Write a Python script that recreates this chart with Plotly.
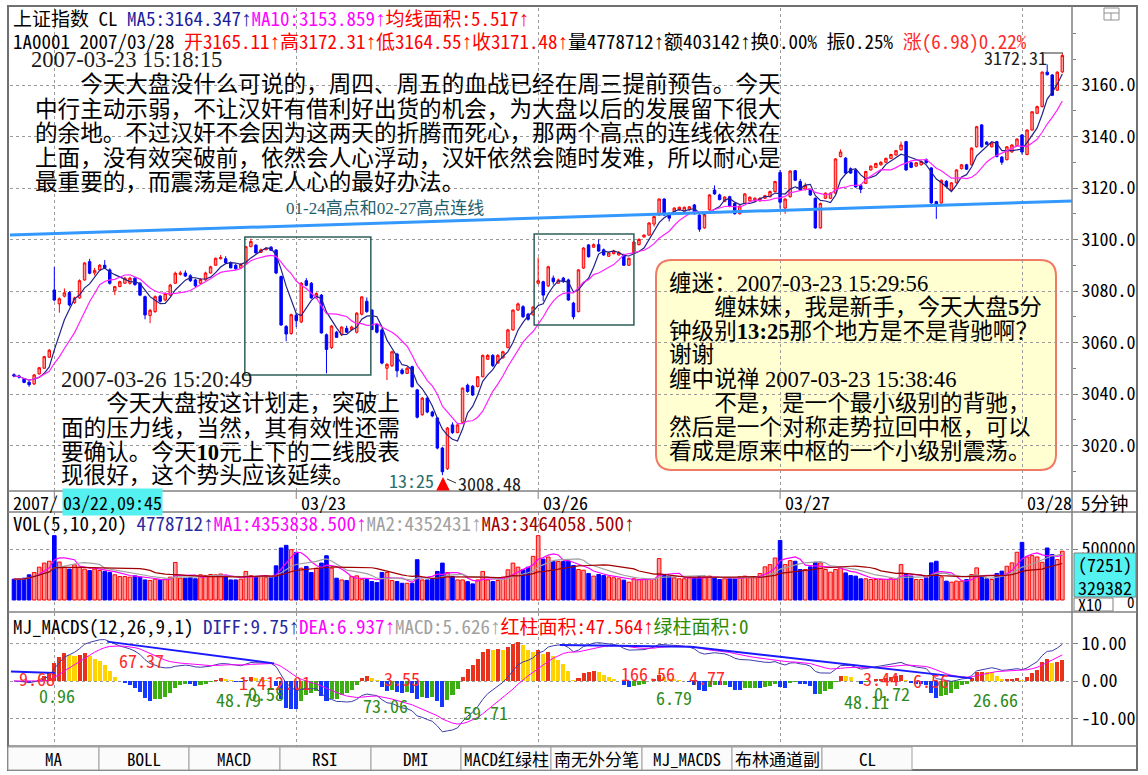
import plotly.graph_objects as go
import pandas as pd

W, H = 1148, 775

# ====================== DATA ======================
day_start_idx = [8, 56, 104, 152, 200]
day_labels = ["03/23", "03/26", "03/27", "03/28"]
date_prefix = "2007/"
first_label = "03/22,09:45"
period_label = "5分钟"

opens = [3047.5, 3047.0, 3045.8, 3044.6, 3043.9, 3047.8, 3050.0, 3054.3, 3080.4, 3075.0,
         3078.0, 3079.4, 3075.5, 3077.3, 3084.3, 3091.4, 3087.0, 3088.2, 3090.0, 3088.2,
         3080.1, 3081.7, 3083.0, 3083.0, 3085.0, 3083.0, 3077.8, 3070.5, 3072.0, 3078.0,
         3076.5, 3078.4, 3083.0, 3086.5, 3087.0, 3085.9, 3084.3, 3083.0, 3084.3, 3087.0,
         3090.0, 3092.5, 3092.5, 3091.0, 3090.0, 3089.0, 3090.8, 3097.2, 3097.8, 3095.0,
         3096.0, 3097.0, 3095.9, 3085.6, 3066.2, 3063.5, 3070.6, 3068.0, 3084.0, 3083.0,
         3077.3, 3078.4, 3063.0, 3058.0, 3064.0, 3063.0, 3065.5, 3065.0, 3064.0, 3071.0,
         3076.0, 3072.6, 3067.0, 3064.9, 3050.0, 3051.0, 3055.5, 3049.3, 3048.0, 3050.6,
         3041.6, 3032.0, 3038.4, 3033.0, 3030.7, 3019.0, 3011.0, 3028.0, 3025.0, 3029.0,
         3043.4, 3043.0, 3042.9, 3046.7, 3053.5, 3055.0, 3052.0, 3054.0, 3058.0, 3064.9,
         3072.6, 3073.9, 3071.0, 3070.7, 3083.0, 3083.6, 3082.0, 3085.0, 3083.0, 3085.0,
         3084.3, 3075.3, 3072.0, 3088.9, 3097.9, 3097.0, 3098.0, 3096.0, 3093.5, 3094.5,
         3094.0, 3094.0, 3090.0, 3094.7, 3098.0, 3101.0, 3101.7, 3106.0, 3109.5, 3115.7,
         3109.5, 3110.8, 3111.5, 3111.0, 3111.5, 3113.4, 3109.5, 3104.5, 3111.5, 3119.2,
         3117.3, 3114.8, 3116.6, 3114.0, 3110.0, 3114.0, 3115.0, 3115.0, 3115.0, 3116.0,
         3116.6, 3118.6, 3126.0, 3112.2, 3116.6, 3126.7, 3122.5, 3119.6, 3119.2, 3116.0,
         3104.5, 3116.0, 3116.0, 3118.0, 3132.2, 3131.6, 3127.5, 3127.0, 3121.0, 3121.8,
         3127.0, 3128.0, 3129.0, 3130.0, 3131.5, 3132.8, 3134.8, 3138.0, 3129.8, 3128.5,
         3129.0, 3131.0, 3127.8, 3114.7, 3114.2, 3122.6, 3119.2, 3122.0, 3127.5, 3129.0,
         3129.0, 3136.0, 3144.5, 3137.8, 3136.0, 3138.0, 3132.0, 3131.0, 3134.0, 3136.5,
         3140.6, 3133.0, 3142.5, 3149.0, 3151.6, 3165.0, 3163.9, 3158.0, 3165.11]

highs = [3048.0, 3047.5, 3046.2, 3045.0, 3047.8, 3050.5, 3054.8, 3057.5, 3089.3, 3077.5,
         3081.0, 3080.0, 3077.8, 3084.5, 3091.2, 3092.5, 3089.0, 3090.5, 3092.0, 3088.8,
         3082.0, 3084.0, 3085.5, 3085.5, 3085.5, 3083.5, 3078.2, 3073.0, 3078.3, 3078.5,
         3079.5, 3082.8, 3087.5, 3087.8, 3088.0, 3086.5, 3084.8, 3085.0, 3087.5, 3089.8,
         3093.0, 3094.0, 3093.5, 3091.5, 3090.5, 3090.8, 3097.5, 3100.3, 3098.2, 3096.5,
         3097.0, 3097.5, 3096.3, 3086.0, 3066.8, 3071.2, 3071.5, 3083.5, 3085.0, 3083.5,
         3079.5, 3078.8, 3063.5, 3066.8, 3064.5, 3066.3, 3066.5, 3066.5, 3071.8, 3078.0,
         3077.5, 3073.0, 3067.5, 3065.5, 3052.0, 3056.8, 3056.0, 3050.0, 3050.5, 3051.0,
         3042.0, 3038.8, 3038.8, 3033.5, 3031.0, 3019.5, 3027.2, 3029.0, 3028.5, 3042.5,
         3044.0, 3043.5, 3047.0, 3055.3, 3055.5, 3055.5, 3055.5, 3056.8, 3065.3, 3072.8,
         3075.5, 3074.5, 3071.5, 3074.0, 3093.0, 3084.0, 3089.8, 3086.0, 3084.8, 3085.5,
         3084.8, 3075.8, 3088.5, 3097.0, 3098.2, 3098.5, 3100.0, 3096.5, 3095.2, 3096.0,
         3095.5, 3094.5, 3093.0, 3099.3, 3100.5, 3102.0, 3106.8, 3109.2, 3116.0, 3116.0,
         3110.5, 3112.5, 3112.8, 3112.8, 3113.0, 3113.8, 3109.8, 3109.8, 3117.6, 3121.0,
         3117.8, 3116.8, 3117.0, 3114.3, 3113.3, 3118.0, 3116.8, 3116.4, 3116.4, 3117.4,
         3119.0, 3122.8, 3127.0, 3116.0, 3126.9, 3127.0, 3123.5, 3122.0, 3119.6, 3116.3,
         3114.3, 3118.3, 3118.3, 3131.6, 3135.0, 3132.0, 3128.0, 3127.3, 3121.5, 3126.7,
         3128.8, 3129.8, 3130.4, 3131.8, 3133.3, 3134.8, 3138.0, 3138.3, 3130.2, 3130.1,
         3130.6, 3131.5, 3128.1, 3115.0, 3123.3, 3123.0, 3122.3, 3127.3, 3129.3, 3129.4,
         3135.8, 3144.1, 3144.8, 3138.2, 3137.8, 3138.3, 3132.4, 3136.3, 3137.0, 3139.3,
         3140.9, 3142.8, 3149.9, 3152.0, 3165.3, 3168.0, 3164.2, 3165.3, 3172.31]

lows = [3046.5, 3046.0, 3044.2, 3042.8, 3043.5, 3047.5, 3049.8, 3054.0, 3076.0, 3071.6,
        3077.5, 3074.0, 3075.0, 3077.0, 3084.0, 3086.5, 3086.0, 3087.8, 3088.5, 3082.5,
        3078.4, 3081.5, 3082.8, 3082.5, 3082.0, 3078.0, 3069.0, 3067.5, 3071.5, 3075.5,
        3076.0, 3078.0, 3082.8, 3086.0, 3085.5, 3083.5, 3081.5, 3082.5, 3084.0, 3086.8,
        3089.8, 3092.3, 3090.5, 3088.8, 3088.3, 3088.8, 3090.5, 3097.0, 3094.5, 3094.8,
        3095.8, 3095.5, 3086.5, 3066.5, 3060.5, 3063.0, 3066.0, 3067.5, 3081.8, 3077.0,
        3076.8, 3063.5, 3048.0, 3057.5, 3061.8, 3062.5, 3063.8, 3064.5, 3063.5, 3070.5,
        3071.5, 3064.8, 3063.5, 3051.5, 3045.4, 3050.5, 3046.5, 3047.5, 3047.8, 3042.5,
        3030.5, 3031.5, 3032.5, 3031.0, 3018.5, 3008.48, 3010.5, 3024.5, 3024.8, 3028.8,
        3040.5, 3039.2, 3042.5, 3046.5, 3053.2, 3050.5, 3051.8, 3053.8, 3057.8, 3064.5,
        3072.3, 3069.5, 3068.5, 3070.5, 3082.5, 3076.0, 3081.5, 3082.5, 3082.8, 3083.2,
        3076.2, 3069.0, 3071.7, 3088.6, 3093.0, 3096.8, 3095.2, 3093.7, 3093.2, 3094.2,
        3093.7, 3089.7, 3089.7, 3094.4, 3097.7, 3100.7, 3101.4, 3105.0, 3109.2, 3109.2,
        3107.0, 3110.5, 3111.2, 3110.7, 3111.2, 3109.7, 3103.0, 3104.2, 3111.2, 3117.4,
        3115.2, 3114.5, 3112.5, 3109.7, 3109.7, 3113.7, 3114.7, 3114.7, 3114.7, 3115.7,
        3116.3, 3118.3, 3112.0, 3110.0, 3116.3, 3122.7, 3118.9, 3119.0, 3117.0, 3104.2,
        3104.2, 3115.7, 3115.7, 3117.7, 3131.9, 3125.5, 3125.5, 3120.1, 3118.0, 3121.5,
        3126.7, 3127.7, 3128.7, 3129.7, 3131.2, 3132.5, 3134.5, 3126.7, 3127.7, 3128.2,
        3128.7, 3129.5, 3113.9, 3108.0, 3113.9, 3120.3, 3118.9, 3121.7, 3127.2, 3127.0,
        3128.7, 3135.7, 3135.7, 3136.7, 3135.7, 3131.9, 3129.0, 3130.7, 3133.7, 3136.2,
        3133.0, 3132.7, 3142.2, 3148.7, 3151.3, 3163.7, 3155.7, 3157.7, 3164.55]

closes = [3047.0, 3046.6, 3044.5, 3043.6, 3047.4, 3050.2, 3054.5, 3057.0, 3076.5, 3077.0,
          3079.3, 3074.6, 3077.3, 3084.0, 3090.9, 3086.9, 3088.0, 3090.0, 3089.0, 3083.0,
          3081.7, 3083.6, 3085.0, 3085.0, 3082.5, 3078.4, 3070.7, 3072.5, 3077.8, 3076.0,
          3079.0, 3082.3, 3086.9, 3087.0, 3085.8, 3084.0, 3082.0, 3084.5, 3087.0, 3089.4,
          3092.7, 3093.0, 3091.0, 3089.0, 3088.6, 3090.3, 3097.2, 3099.2, 3094.8, 3096.0,
          3096.5, 3095.8, 3087.0, 3066.8, 3063.3, 3070.8, 3068.5, 3083.0, 3082.2, 3077.3,
          3079.0, 3063.7, 3057.3, 3066.4, 3062.0, 3066.0, 3064.0, 3066.0, 3071.4, 3077.7,
          3072.0, 3065.0, 3064.0, 3052.0, 3051.5, 3056.4, 3049.0, 3048.0, 3050.0, 3042.8,
          3031.0, 3038.4, 3033.0, 3031.5, 3019.0, 3009.8, 3026.8, 3025.0, 3028.0, 3042.3,
          3041.0, 3039.6, 3046.7, 3055.0, 3055.0, 3051.0, 3055.0, 3056.4, 3064.9, 3072.6,
          3075.0, 3070.0, 3069.0, 3073.8, 3084.0, 3078.4, 3089.4, 3083.6, 3084.3, 3083.6,
          3076.5, 3070.0, 3088.2, 3096.7, 3093.3, 3098.0, 3095.5, 3094.0, 3094.8, 3095.5,
          3095.0, 3090.0, 3092.7, 3099.0, 3100.0, 3101.7, 3106.4, 3108.9, 3115.7, 3109.5,
          3108.3, 3112.2, 3112.5, 3112.5, 3112.7, 3110.0, 3104.0, 3109.5, 3117.3, 3117.7,
          3115.5, 3116.5, 3112.8, 3110.0, 3113.0, 3117.7, 3116.4, 3116.0, 3116.0, 3117.0,
          3118.6, 3122.5, 3114.5, 3115.7, 3126.6, 3123.0, 3119.2, 3121.0, 3117.3, 3104.5,
          3114.0, 3118.0, 3118.0, 3131.3, 3134.0, 3125.8, 3125.8, 3120.4, 3119.5, 3126.4,
          3128.5, 3129.5, 3130.0, 3131.5, 3133.0, 3134.5, 3136.7, 3127.0, 3128.0, 3129.8,
          3130.3, 3129.8, 3114.2, 3113.4, 3123.0, 3120.6, 3122.0, 3127.0, 3129.0, 3127.3,
          3135.5, 3143.8, 3136.0, 3137.0, 3137.5, 3132.2, 3130.0, 3136.0, 3136.7, 3139.0,
          3134.0, 3142.5, 3149.6, 3151.6, 3165.0, 3164.0, 3156.0, 3165.0, 3171.48]

# volume on the X10 scale shown in the sub-panel
volumes = [204000, 204000, 214000, 247000, 270000, 322000, 362000, 380000, 631000, 372000,
           322000, 303000, 345000, 322000, 303000, 289000, 303000, 289000, 280000, 270000,
           247000, 230000, 230000, 224000, 237000, 224000, 197000, 191000, 204000, 197000,
           204000, 224000, 368000, 214000, 214000, 220000, 208000, 247000, 240000, 250000,
           247000, 255000, 237000, 197000, 197000, 204000, 280000, 240000, 224000, 230000,
           220000, 224000, 335000, 510000, 536000, 493000, 467000, 312000, 329000, 270000,
           312000, 362000, 434000, 312000, 214000, 197000, 191000, 230000, 237000, 204000,
           200000, 181000, 171000, 270000, 270000, 191000, 181000, 164000, 164000, 164000,
           395000, 197000, 197000, 204000, 280000, 362000, 270000, 230000, 197000, 197000,
           180000, 158000, 197000, 280000, 197000, 181000, 191000, 224000, 296000, 362000,
           322000, 296000, 322000, 428000, 631000, 401000, 421000, 378000, 378000, 378000,
           380000, 338000, 299000, 292000, 260000, 234000, 250000, 240000, 227000, 218000,
           208000, 195000, 175000, 208000, 201000, 208000, 201000, 201000, 406000, 240000,
           234000, 218000, 208000, 208000, 218000, 218000, 227000, 227000, 234000, 218000,
           201000, 208000, 218000, 208000, 227000, 234000, 218000, 218000, 260000, 325000,
           347000, 412000, 584000, 347000, 386000, 380000, 299000, 299000, 325000, 370000,
           364000, 299000, 273000, 299000, 325000, 266000, 240000, 234000, 208000, 208000,
           201000, 201000, 201000, 201000, 208000, 208000, 347000, 250000, 234000, 201000,
           201000, 218000, 364000, 380000, 227000, 185000, 175000, 185000, 185000, 201000,
           250000, 315000, 234000, 208000, 201000, 260000, 283000, 331000, 364000, 468000,
           565000, 422000, 435000, 422000, 370000, 510000, 445000, 396000, 478000]

price_ticks = [3020, 3040, 3060, 3080, 3100, 3120, 3140, 3160]
vol_ticks = [500000]
vol_ticktext = ["500000"]
macd_ticks = [10, 0, -10]
macd_ticktext = ["10.00", "0.00", "-10.00"]

# user-drawn objects on the price panel (bar index, price)
trend_x = [-0.8, 209.9]
trend_y = [3101.75, 3114.95]
box1_x = [45.8, 70.8]
box1_y = [3047.4, 3101.0]
box2_x = [103.2, 123.0]
box2_y = [3066.8, 3102.1]
# MJ_MACDS peak-connection line (bar index, value)
mj_x = [-0.6, 8.1, None, 18.5, 51.6, None, 108.3, 134.3, 190.1]
mj_y = [2.5, 2.1, None, 10.5, 4.7, None, 9.6, 9.1, 0.7]

# texts
hdr_name = "上证指数 CL"
hdr_ma5 = "MA5:3164.347"
hdr_ma10 = "MA10:3153.859"
hdr_area = "均线面积:5.517"
hdr_code = "1A0001 2007/03/28"
hdr_ohlc = ["开3165.11", "高3172.31", "低3164.55", "收3171.48"]
hdr_vol = ["量4778712", "额403142"]
hdr_rest = "换0.00% 振0.25%"
hdr_chg = "涨(6.98)0.22%"
vol_title = ["VOL(5,10,20)", "4778712", "MA1:4353838.500", "MA2:4352431", "MA3:3464058.500"]
macd_title = ["MJ_MACDS(12,26,9,1)", "DIFF:9.75", "DEA:6.937", "MACD:5.626", "红柱面积:47.564", "绿柱面积:0"]
vol_box = ["(7251)", "329382", "X10", "0"]
tabs = ["MA", "BOLL", "MACD", "RSI", "DMI", "MACD红绿柱", "南无外分笔", "MJ_MACDS", "布林通道副", "CL"]
high_label = "3172.31"
low_label = "3008.48"
low_time = "13:25"
trend_label = "01-24高点和02-27高点连线"
note1_time = "2007-03-23 15:18:15"
note1 = ["\u3000\u3000今天大盘没什么可说的，周四、周五的血战已经在周三提前预告。今天",
         "中行主动示弱，不让汉奸有借利好出货的机会，为大盘以后的发展留下很大",
         "的余地。不过汉奸不会因为这两天的折腾而死心，那两个高点的连线依然在",
         "上面，没有效突破前，依然会人心浮动，汉奸依然会随时发难，所以耐心是",
         "最重要的，而震荡是稳定人心的最好办法。"]
note2_time = "2007-03-26 15:20:49"
note2 = ["\u3000\u3000今天大盘按这计划走，突破上",
         "面的压力线，当然，其有效性还需",
         "要确认。今天<b>10</b>元上下的二线股表",
         "现很好，这个势头应该延续。"]
note3 = ["缠迷：2007-03-23 15:29:56",
         "\u3000\u3000缠妹妹，我是新手，今天大盘<b>5</b>分",
         "钟级别<b>13:25</b>那个地方是不是背驰啊？",
         "谢谢",
         "缠中说禅 2007-03-23 15:38:46",
         "\u3000\u3000不是，是一个最小级别的背驰，",
         "然后是一个对称走势拉回中枢，可以",
         "看成是原来中枢的一个小级别震荡。"]
macd_red_labels = ["9.68", "67.37", "1.412.01", "3.55", "166.56", "4.77", "3.44", "6.56"]
macd_green_labels = ["0.96", "48.79", "0.58", "73.06", "59.71", "6.79", "48.11", "0.72", "26.66"]

# ====================== DERIVED INDICATORS ======================
n = len(closes)
idx = list(range(n))
cs = pd.Series(closes)
ma5 = cs.rolling(5, min_periods=1).mean()
ma10 = cs.rolling(10, min_periods=1).mean()
vs = pd.Series(volumes)
vma5 = vs.rolling(5, min_periods=1).mean()
vma10 = vs.rolling(10, min_periods=1).mean()
vma20 = vs.rolling(20, min_periods=1).mean()
ema12 = cs.ewm(span=12, adjust=False).mean()
ema26 = cs.ewm(span=26, adjust=False).mean()
diff = ema12 - ema26
dea = diff.ewm(span=9, adjust=False).mean()
macd = 2 * (diff - dea)

# ====================== STYLE / LAYOUT ======================
MONO = "Noto Sans Mono CJK SC, Liberation Mono, monospace"
SERIF_CJK = "Liberation Serif, Noto Sans CJK SC, serif"
RED = "#ff0000"
BLUE = "#0000ff"
GRID = "#9a9a9a"
FRAME = "#808080"


def px(x):
    return x / W


def py(y):
    return 1 - y / H


BAR0, STEP = 14.0, 5.04
xr = [(10 - BAR0) / STEP, (1072 - BAR0) / STEP]
XDOM = [px(10), px(1072)]

# price panel: y 8..490 px, 3160 at y=85, 2.575 px/pt
P_TOP, P_BOT = 8, 490
main_range = [3160 - (P_BOT - 85) / 2.575, 3160 + (85 - P_TOP) / 2.575]
# volume panel: y 512..612 px, zero at 600, 500000 at 549
V_TOP, V_BOT = 512, 612
vpp = 500000 / 51.0
vol_range = [-(V_BOT - 600) * vpp, (600 - V_TOP) * vpp]
# macd panel: y 613..746 px, zero at 681, 3.75 px/unit
M_TOP, M_BOT = 613, 746
macd_range = [-(M_BOT - 681) / 3.75, (681 - M_TOP) / 3.75]

up = [c >= o for o, c in zip(opens, closes)]
vol_fill = ["#ff9c9c" if u else BLUE for u in up]
vol_line = [RED if u else BLUE for u in up]
mcol = []
for k in range(n):
    prev = macd[k - 1] if k > 0 else 0.0
    if macd[k] >= 0:
        mcol.append("#e8321c" if macd[k] >= prev else "#ffd200")
    else:
        mcol.append("#1438ff" if macd[k] <= prev else "#3cae12")

fig = go.Figure()
fig.add_trace(go.Candlestick(
    x=idx, open=opens, high=highs, low=lows, close=closes,
    increasing=dict(line=dict(color=RED, width=1), fillcolor="#ff9a9a"),
    decreasing=dict(line=dict(color=BLUE, width=1), fillcolor=BLUE),
    whiskerwidth=0, xaxis="x", yaxis="y", hoverinfo="skip", showlegend=False))
fig.add_trace(go.Scatter(x=idx, y=ma5, mode="lines", line=dict(color="#22228a", width=1.2),
                         xaxis="x", yaxis="y", hoverinfo="skip"))
fig.add_trace(go.Scatter(x=idx, y=ma10, mode="lines", line=dict(color="#ff22ff", width=1.2),
                         xaxis="x", yaxis="y", hoverinfo="skip"))
fig.add_trace(go.Scatter(x=trend_x, y=trend_y, mode="lines", line=dict(color="#3399ff", width=3),
                         xaxis="x", yaxis="y", hoverinfo="skip"))

fig.add_trace(go.Bar(x=idx, y=volumes, width=0.72, marker=dict(color=vol_fill, line=dict(color=vol_line, width=1)),
                     xaxis="x2", yaxis="y2", hoverinfo="skip"))
fig.add_trace(go.Scatter(x=idx, y=vma5, mode="lines", line=dict(color="#ff00ff", width=1.2), xaxis="x2", yaxis="y2"))
fig.add_trace(go.Scatter(x=idx, y=vma10, mode="lines", line=dict(color="#a0a0a0", width=1.2), xaxis="x2", yaxis="y2"))
fig.add_trace(go.Scatter(x=idx, y=vma20, mode="lines", line=dict(color="#a00000", width=1.2), xaxis="x2", yaxis="y2"))

fig.add_trace(go.Bar(x=idx, y=macd, width=0.8, marker=dict(color=mcol, line=dict(width=0)),
                     xaxis="x3", yaxis="y3", hoverinfo="skip"))
fig.add_trace(go.Scatter(x=idx, y=diff, mode="lines", line=dict(color="#3c3ca8", width=1), xaxis="x3", yaxis="y3"))
fig.add_trace(go.Scatter(x=idx, y=dea, mode="lines", line=dict(color="#ff00ff", width=1), xaxis="x3", yaxis="y3"))
fig.add_trace(go.Scatter(x=mj_x, y=mj_y, mode="lines", line=dict(color="#1a1aff", width=2), xaxis="x3", yaxis="y3",
                         connectgaps=False))


def xaxis(anchor):
    return dict(domain=XDOM, range=xr, anchor=anchor, showticklabels=False, ticks="",
                tickmode="array", tickvals=day_start_idx, showgrid=True, gridcolor=GRID,
                griddash="dot", gridwidth=1, zeroline=False, showline=False, fixedrange=True)


def yaxis(anchor, top, bot, rng, tv, tt, minor=None):
    d = dict(domain=[py(bot), py(top)], range=rng, anchor=anchor, side="right",
             tickmode="array", tickvals=tv, ticktext=tt, ticks="outside", ticklen=5,
             tickcolor=FRAME, showgrid=True, gridcolor=GRID, griddash="dot", zeroline=False,
             showline=False, tickfont=dict(family=MONO, size=18, color="#000000"), fixedrange=True)
    if minor:
        d["minor"] = minor
    return d


fig.update_layout(
    width=W, height=H, margin=dict(l=0, r=0, t=0, b=0),
    paper_bgcolor="#ffffff", plot_bgcolor="#ffffff", showlegend=False, hovermode=False,
    bargap=0,
    xaxis=dict(xaxis("y"), rangeslider=dict(visible=False)),
    xaxis2=xaxis("y2"), xaxis3=xaxis("y3"),
    yaxis=yaxis("x", P_TOP, P_BOT, main_range, price_ticks, [f"{v:.1f}" for v in price_ticks],
                minor=dict(tickmode="linear", tick0=3000, dtick=10, ticks="outside", ticklen=3,
                           tickcolor=FRAME, showgrid=False)),
    yaxis2=yaxis("x2", V_TOP, V_BOT, vol_range, vol_ticks, vol_ticktext),
    yaxis3=yaxis("x3", M_TOP, M_BOT, macd_range, macd_ticks, macd_ticktext),
)

shapes = []


def pline(x0, y0, x1, y1, color=FRAME, w=1.0):
    shapes.append(dict(type="line", xref="paper", yref="paper", x0=px(x0), y0=py(y0), x1=px(x1), y1=py(y1),
                       line=dict(color=color, width=w)))


def prect(x0, y0, x1, y1, color=FRAME, fill=None, w=1.0):
    shapes.append(dict(type="rect", xref="paper", yref="paper", x0=px(x0), y0=py(y1), x1=px(x1), y1=py(y0),
                       line=dict(color=color, width=w), fillcolor=fill or "rgba(0,0,0,0)", layer="above"))


# frame and separators
prect(8, 6, 1137, 770, color="#707070", w=2)
pline(1072, 6, 1072, 746, w=1.5)
for yy in (491, 512, 612, 746):
    pline(8, yy, 1137, yy, w=1.5)
# tabs
tab_edges = [8, 99, 189, 280, 371, 461, 551, 642, 732, 822, 912]
for a, b in zip(tab_edges[:-1], tab_edges[1:]):
    prect(a, 747, b, 770, color="#a0a0a0", fill="#fbfbfb")
# top-right window icon
prect(1104, 8, 1119, 20, color="#909090")
pline(1104, 13, 1119, 13, color="#909090")
pline(1111, 13, 1111, 20, color="#909090")
# date strip tick marks at session starts (data x)
for d in day_start_idx:
    shapes.append(dict(type="line", xref="x", yref="paper", x0=d, x1=d, y0=py(499), y1=py(491),
                       line=dict(color=FRAME, width=1)))
# analysis boxes (data coords)
for bx, by in ((box1_x, box1_y), (box2_x, box2_y)):
    shapes.append(dict(type="rect", xref="x", yref="y", x0=bx[0], x1=bx[1], y0=by[0], y1=by[1],
                       line=dict(color="#2f5f5a", width=1.5), fillcolor="rgba(0,0,0,0)"))
# rounded callout box
bx0, by0, bx1, by1, r = 656, 260, 1056, 470, 16
rx, ry = r / W, r / H
X0, X1, Y0, Y1 = px(bx0), px(bx1), py(by1), py(by0)
path = (f"M {X0+rx},{Y0} L {X1-rx},{Y0} Q {X1},{Y0} {X1},{Y0+ry} L {X1},{Y1-ry} Q {X1},{Y1} {X1-rx},{Y1} "
        f"L {X0+rx},{Y1} Q {X0},{Y1} {X0},{Y1-ry} L {X0},{Y0+ry} Q {X0},{Y0} {X0+rx},{Y0} Z")
shapes.append(dict(type="path", xref="paper", yref="paper", path=path, fillcolor="#ffffd2",
                   line=dict(color="#f07a64", width=2), layer="below"))
# volume side boxes
prect(1074, 553, 1136, 597, color="#808080", fill="#55f2f2")
prect(1074, 598, 1113, 611, color="#808080", fill="#ffffff")
# leaders
pline(1044, 53, 1063, 53, color="#303030")
pline(447, 479, 456, 483, color="#303030")
fig.update_layout(shapes=shapes)

ann = []


def txt(x, y, s, size=18, color="#000000", family=MONO, xanchor="left", bg=None):
    d = dict(x=px(x), y=py(y), xref="paper", yref="paper", text=s, showarrow=False, xanchor=xanchor,
             yanchor="middle", font=dict(size=size, color=color, family=family), borderpad=0)
    if bg:
        d["bgcolor"] = bg
    ann.append(d)


def sp(s, c):
    return f'<span style="color:{c}">{s}</span>'


def arw(c):
    return f'<span style="color:{c};font-family:Liberation Sans;font-size:21px">↑</span>'


NB = "\u00a0"
# header rows
row1 = (hdr_name + NB + sp(hdr_ma5, "#1c1c9c") + arw("#1c1c9c") + sp(hdr_ma10, "#ff00ff") + arw("#ff00ff")
        + sp(hdr_area, RED) + arw(RED))
row2 = hdr_code.replace(" ", NB) + NB
for s in hdr_ohlc:
    row2 += sp(s, RED) + arw(RED)
for s in hdr_vol:
    row2 += s + arw("#000000")
row2 += hdr_rest.replace(" ", NB) + NB + sp(hdr_chg, "#ff2a2a")
txt(12, 17, row1, size=19)
txt(12, 40, row2, size=19)
# volume / macd titles
vt = (vol_title[0] + NB + sp(vol_title[1], "#2a2aa0") + arw("#2a2aa0") + sp(vol_title[2], "#ff00ff") + arw("#ff00ff")
      + sp(vol_title[3], "#a0a0a0") + arw("#a0a0a0") + sp(vol_title[4], "#a00000") + arw("#a00000"))
txt(12, 522, vt, size=19)
mt = (macd_title[0] + NB + sp(macd_title[1], "#2a2aa0") + arw("#2a2aa0") + sp(macd_title[2], "#ff00ff")
      + arw("#ff00ff") + sp(macd_title[3], "#a0a0a0") + arw("#a0a0a0") + sp(macd_title[4], RED) + arw(RED)
      + sp(macd_title[5], "#2e8b00"))
txt(12, 625, mt, size=19)
# date strip
txt(12, 502, date_prefix, size=18)
txt(62, 502, first_label, size=18, bg="#55f0f0")
for lab, d in zip(day_labels, day_start_idx[1:]):
    ann.append(dict(x=d, y=py(502), xref="x", yref="paper", text=lab, showarrow=False, xanchor="left",
                    xshift=3, yanchor="middle", font=dict(size=18, family=MONO, color="#000")))
txt(1080, 502, period_label, size=19)
# volume side box texts
txt(1105, 564, vol_box[0], size=18, xanchor="center")
txt(1105, 587, vol_box[1], size=18, xanchor="center")
txt(1077, 604, vol_box[2], size=16)
txt(1126, 601, vol_box[3], size=15)
# tabs
for lab, a, b in zip(tabs, tab_edges[:-1], tab_edges[1:]):
    txt((a + b) / 2, 758, lab, size=17, xanchor="center")
# price notes
txt(983, 57, high_label, size=18, color="#202020")
txt(457, 483, low_label, size=18, color="#202020")
txt(388, 480, low_time, size=18, color="#2a6e6e")
ann.append(dict(x=px(443), y=py(477), xref="paper", yref="paper", ax=0, ay=14, text="", showarrow=True,
                arrowhead=2, arrowsize=0.9, arrowwidth=3, arrowcolor="#ff0000"))
txt(285, 209, trend_label, size=17, color="#23606e", family=SERIF_CJK)
txt(30, 60, note1_time, size=22.6, color="#1a1a1a", family=SERIF_CJK)
for k, line in enumerate(note1):
    txt(34, 85 + 24.5 * k, line, size=22.6, family=SERIF_CJK)
txt(60, 380, note2_time, size=22.6, color="#1a1a1a", family=SERIF_CJK)
for k, line in enumerate(note2):
    txt(60, 404 + 24 * k, line, size=22.6, family=SERIF_CJK)
for k, line in enumerate(note3):
    txt(668, 283 + 24 * k, line, size=22.6, family=SERIF_CJK)
# macd area labels
red_pos = [(18, 678), (118, 660), (238, 682), (383, 678), (620, 673), (688, 677), (862, 678), (912, 680)]
green_pos = [(38, 695), (215, 699), (247, 693), (362, 705), (462, 712), (655, 697), (843, 701), (873, 693), (972, 699)]
for s, (x, y) in zip(macd_red_labels, red_pos):
    txt(x, y, s, size=18, color="#ff2a2a")
for s, (x, y) in zip(macd_green_labels, green_pos):
    txt(x, y, s, size=18, color="#2e8b1a")

fig.update_layout(annotations=ann)
fig.write_html("out.html", config={"displayModeBar": False, "staticPlot": True},
               post_script="document.body.style.margin='0';document.body.style.overflow='hidden';")
